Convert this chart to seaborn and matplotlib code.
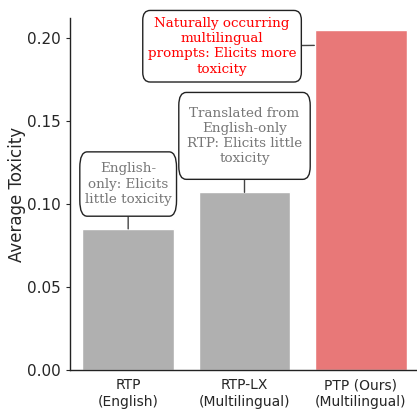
import matplotlib
matplotlib.use("Agg")
import matplotlib.pyplot as plt
import seaborn as sns
import pandas as pd

categories = ["RTP\n(English)", "RTP-LX\n(Multilingual)", "PTP (Ours)\n(Multilingual)"]
values = [0.085, 0.107, 0.205]
bar_colors = ["#b0b0b0", "#b0b0b0", "#e87878"]
yticks = [0.00, 0.05, 0.10, 0.15, 0.20]
notes = [
    "English-\nonly: Elicits\nlittle toxicity",
    "Translated from\nEnglish-only\nRTP: Elicits little\ntoxicity",
    "Naturally occurring\nmultilingual\nprompts: Elicits more\ntoxicity",
]
note_colors = ["#777777", "#777777", "#ff0000"]

sns.set_theme(style="ticks")
plt.rcParams["font.family"] = ["DejaVu Sans"]

df = pd.DataFrame({"cat": categories, "val": values})

fig = plt.figure(figsize=(4.17, 4.09), dpi=100)
ax = fig.add_axes([70 / 417, 39 / 409, 349 / 417, 352 / 409])
sns.barplot(data=df, x="cat", y="val", hue="cat", palette=bar_colors,
            legend=False, ax=ax, width=0.79, saturation=1)

ax.set_xlim(-0.5, 2.5)
ax.set_ylim(0, 0.212)
ax.set_yticks(yticks)
ax.set_yticklabels([f"{t:.2f}" for t in yticks], fontsize=11)
ax.tick_params(axis="x", length=0, labelsize=10, pad=6)
ax.tick_params(axis="y", length=3, width=0.8)
ax.set_xlabel("")
ax.set_ylabel("Average Toxicity", fontsize=12, labelpad=1)
for s in ["left", "bottom"]:
    ax.spines[s].set_color("#222222")
    ax.spines[s].set_linewidth(1.0)
sns.despine(ax=ax)

note_pos = [(0, 0.112), (1, 0.141), (0.807, 0.195)]
note_target = [(0, values[0]), (1, values[1]), (1.6, 0.1955)]
note_pad = [(0.37, 2.1), (0.6, 1.75), (0.37, 1.3)]
for txt, col, pos, tgt, (pad, asp) in zip(notes, note_colors, note_pos,
                                          note_target, note_pad):
    ax.annotate(txt, xy=tgt, xytext=pos, xycoords="data", textcoords="data",
                ha="center", va="center", color=col, fontsize=9.7,
                family="DejaVu Serif", linespacing=1.22,
                bbox=dict(boxstyle=f"round,pad={pad},rounding_size=0.55",
                          mutation_aspect=asp,
                          fc="white", ec="#222222", lw=1.0),
                arrowprops=dict(arrowstyle="-", color="#444444", lw=1.0,
                                shrinkA=0, shrinkB=0))

fig.savefig("out.png", dpi=100)
